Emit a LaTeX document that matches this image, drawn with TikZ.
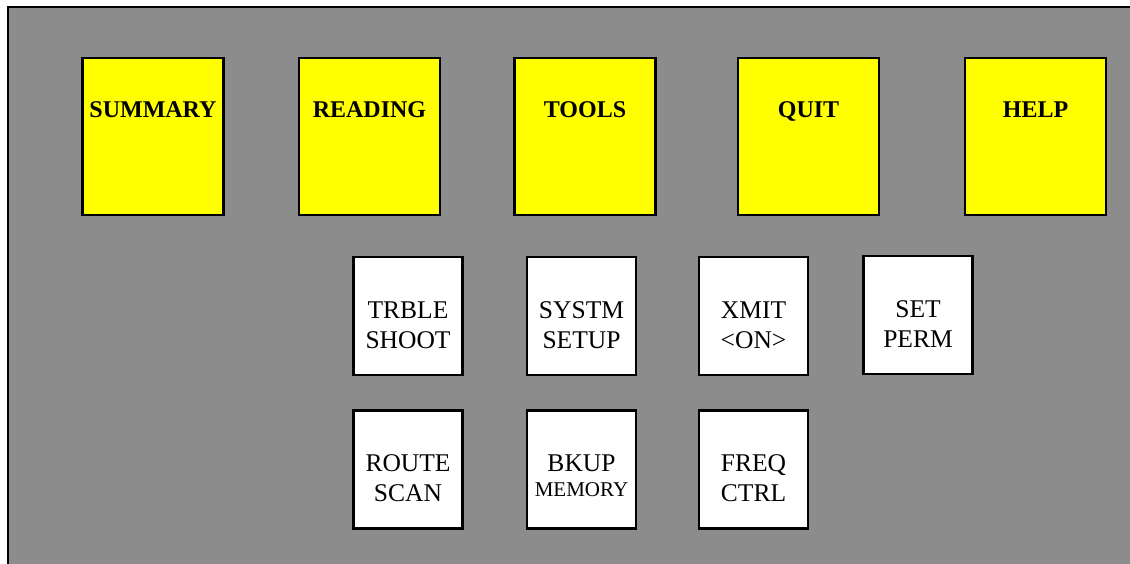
\documentclass[tikz,border=0pt]{standalone}
\usepackage{fontspec}
\setmainfont{Liberation Serif}
\definecolor{panel}{HTML}{8C8C8C}
\definecolor{keyyellow}{HTML}{FFFF00}
\begin{document}
\begin{tikzpicture}[x=1pt,y=-1pt,
  ybox/.style={draw=black, line width=2.2pt, fill=keyyellow, inner sep=0pt,
    minimum width=141pt, text height=59pt, text depth=98pt,
    font=\fontsize{24}{28}\selectfont\bfseries},
  wbox/.style={draw=black, line width=2.2pt, fill=white, inner sep=0pt,
    minimum width=109pt, text height=91pt, text depth=27pt, align=center,
    font=\fontsize{25.5}{30}\selectfont}]
\useasboundingbox (0,0) rectangle (1130,563);
\fill[white] (0,0) rectangle (1130,563);
\draw[line width=2.2pt, fill=panel] (8,7) rectangle (1140,575);
% yellow keys
\node[ybox] (summary) at (153,136.5) {SUMMARY};
\node[ybox] (reading) at (369.5,136.5) {READING};
\node[ybox] (tools)   at (585,136.5) {TOOLS};
\node[ybox] (quit)    at (808.5,136.5) {QUIT};
\node[ybox] (help)    at (1035.5,136.5) {HELP};
% white keys, row 1
\node[wbox] (trble) at (408,316) {TRBLE\\SHOOT};
\node[wbox] (systm) at (581.5,316) {SYSTM\\SETUP};
\node[wbox] (xmit)  at (753.5,316) {XMIT\\\textless ON\textgreater};
\node[wbox] (set)   at (918,315) {SET\\PERM};
% white keys, row 2
\node[wbox] (route) at (408,469.5) {ROUTE\\SCAN};
\node[wbox, text height=86pt, text depth=32pt] (bkup) at (581.5,469.5) {BKUP\\[-5pt]{\fontsize{21}{25}\selectfont MEMORY}};
\node[wbox] (freq)  at (753.5,469.5) {FREQ\\CTRL};
\end{tikzpicture}
\end{document}
